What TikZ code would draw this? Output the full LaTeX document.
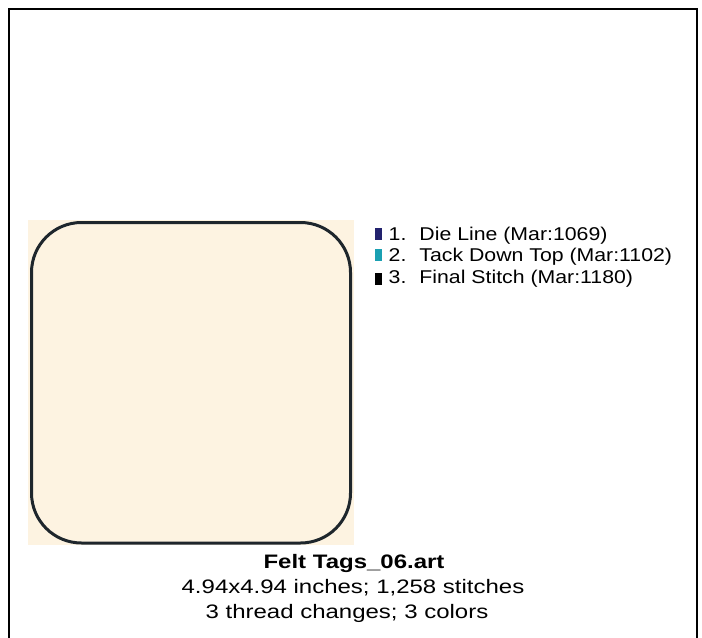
\documentclass[tikz,border=0pt]{standalone}
\usepackage{fontspec}
\setmainfont{Liberation Sans}
\newfontfamily\legfont[FakeStretch=1.15]{Liberation Sans}
\newfontfamily\capfont[FakeStretch=1.23]{Liberation Sans}
\definecolor{felt}{HTML}{FDF3E1}
\definecolor{stitch}{HTML}{1E262C}
\definecolor{dieline}{HTML}{22226E}
\definecolor{tack}{HTML}{1AA0B2}
\tikzset{
  frameline/.style={line width=1.3bp, black},
  legtext/.style={anchor=base west, inner sep=0pt, font=\legfont\fontsize{18.5bp}{18.5bp}\selectfont},
  captext/.style={anchor=base, inner sep=0pt, font=\capfont\fontsize{19.5bp}{19.5bp}\selectfont},
  swatch/.style={anchor=north west, inner sep=0pt, minimum width=6.5bp, minimum height=12bp, draw=none},
}
\begin{document}
\begin{tikzpicture}[x=1bp, y=-1bp]
\useasboundingbox (0,0) rectangle (702,638);
% frame
\draw[frameline] (9,638) -- (9,9) -- (697,9) -- (697,638);
% felt background
\fill[felt] (28,220) rectangle (354,545);
% stitched outline
\draw[stitch, line width=3bp, rounded corners=50bp] (31.5,222.5) rectangle (350.5,543);
% legend
\node[swatch, fill=dieline] (s1) at (375,227.5) {};
\node[swatch, fill=tack] (s2) at (375,249) {};
\node[swatch, fill=black] (s3) at (375,272.5) {};
\node[legtext] (l1) at (388.5,240.5) {1.\hspace{13bp}Die Line (Mar:1069)};
\node[legtext] (l2) at (388.5,261.7) {2.\hspace{13bp}Tack Down Top (Mar:1102)};
\node[legtext] (l3) at (388.5,283.5) {3.\hspace{13bp}Final Stitch (Mar:1180)};
% caption
\node[captext, font=\capfont\bfseries\fontsize{19.5bp}{19.5bp}\selectfont] (t1) at (354,568) {Felt Tags\_06.art};
\node[captext] (t2) at (353,593) {4.94x4.94 inches; 1,258 stitches};
\node[captext] (t3) at (347,618) {3 thread changes; 3 colors};
\end{tikzpicture}
\end{document}
